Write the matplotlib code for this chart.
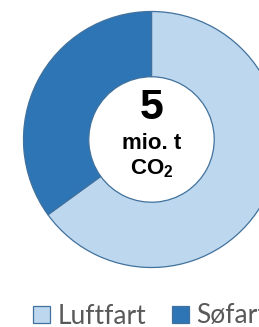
import matplotlib
matplotlib.use("Agg")
import matplotlib.pyplot as plt

labels = ["Luftfart", "Søfart"]
shares = [65, 35]
colors = ["#BDD7EE", "#2E75B6"]
total_value = "5"
unit_line1 = "mio. t"
unit_line2 = "CO$_2$"

plt.rcParams['mathtext.fontset'] = 'custom'
plt.rcParams['mathtext.rm'] = 'Liberation Sans:bold'
plt.rcParams['mathtext.bf'] = 'Liberation Sans:bold'

W, H = 259, 327
fig = plt.figure(figsize=(W/100, H/100), dpi=100)
cx, cy, R = 151.5, 139.5, 128
ax = fig.add_axes([(cx-R)/W, (H-cy-R)/H, 2*R/W, 2*R/H])
wedges, _ = ax.pie(shares, colors=colors, startangle=90, counterclock=False,
                   radius=1, wedgeprops=dict(width=0.51, edgecolor="#41719C", linewidth=0.9))
ax.set_xlim(-1, 1)
ax.set_ylim(-1, 1)
ax.set_aspect('auto')
ax.axis('off')

sans = ['Liberation Sans', 'DejaVu Sans']
ax.text(0, 0.245, total_value, ha='center', va='center', fontsize=31,
        fontweight='bold', family=sans, color='black')
ax.text(0, -0.035, unit_line1, ha='center', va='center', fontsize=16,
        fontweight='bold', family=sans, color='black')
ax.text(0, -0.225, unit_line2, ha='center', va='center', fontsize=16,
        fontweight='bold', family=sans, color='black')

fig.legend(wedges, labels, loc='center left', bbox_to_anchor=(33/W, 1-316/H),
           ncol=2, frameon=False, borderpad=0, borderaxespad=0,
           handlelength=0.64, handleheight=0.64, handletextpad=0.3,
           columnspacing=0.95, labelcolor='#595959',
           prop={'family': ['Lato', 'DejaVu Sans'], 'size': 19})

fig.savefig("out.png", dpi=100)
